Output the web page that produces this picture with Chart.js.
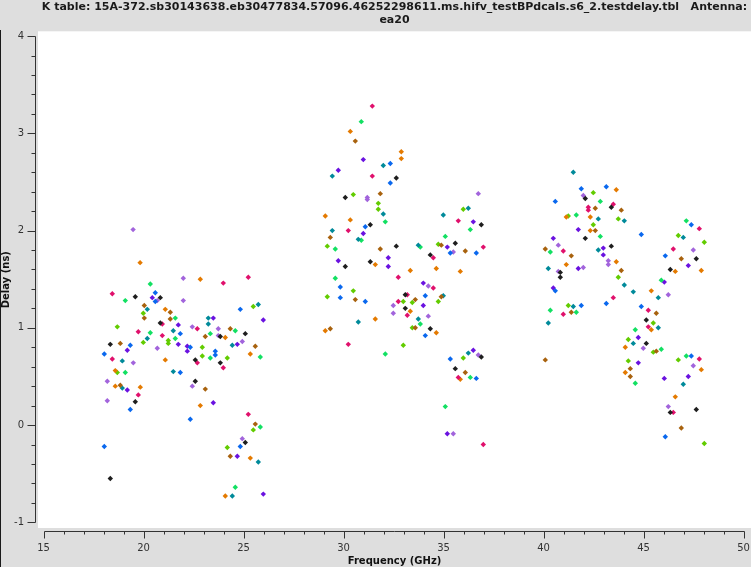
<!DOCTYPE html>
<html>
<head>
<meta charset="utf-8">
<script src="https://cdn.jsdelivr.net/npm/chart.js@4"></script>
<style>
  html, body { margin: 0; padding: 0; background: #dedede; }
  canvas { display: block; }
</style>
</head>
<body>
<canvas id="plot" width="751" height="567"></canvas>
<script>
// plotms-style delay table, ea20, one array pair per colour
const titleLines = ['K table: 15A-372.sb30143638.eb30477834.57096.46252298611.ms.hifv_testBPdcals.s6_2.testdelay.tbl   Antenna:', 'ea20'];
const xTickValues = [15, 20, 25, 30, 35, 40, 45, 50];
const yTickValues = [-1, 0, 1, 2, 3, 4];

const blackFreq = [19.59, 20.84, 20.84, 25.09, 23.84, 18.34, 22.59, 23.84, 22.59, 19.59, 25.09, 18.34,
  32.64, 30.09, 31.34, 30.09, 32.64, 31.34, 34.34, 36.89, 35.59, 33.09, 33.09, 34.34, 35.59, 36.89,
  42.09, 43.39, 42.09, 43.39, 40.84, 40.84, 47.64, 46.34, 45.14, 45.14, 46.34, 47.64];
const blackDelay = [1.32, 1.31, 1.05, 0.94, 0.91, 0.83, 0.67, 0.64, 0.45, 0.24, -0.18, -0.55,
  2.54, 2.34, 2.06, 1.63, 1.84, 1.68, 1.75, 2.06, 1.87, 1.34, 1.20, 0.99, 0.58, 0.70,
  2.33, 2.24, 1.92, 1.84, 1.57, 1.52, 1.71, 1.60, 1.08, 0.84, 0.13, 0.16];

const pinkFreq = [23.99, 25.24, 18.44, 20.94, 22.69, 19.74, 20.94, 18.44, 22.69, 23.99, 19.74, 25.24,
  31.44, 31.44, 30.24, 34.49, 35.74, 36.99, 32.74, 34.49, 33.19, 32.74, 33.19, 30.24, 35.74, 36.99,
  43.49, 42.24, 42.24, 40.99, 43.49, 40.99, 47.79, 46.49, 45.24, 45.24, 47.79, 46.49];
const pinkDelay = [1.46, 1.52, 1.35, 1.04, 0.99, 0.96, 0.92, 0.68, 0.64, 0.59, 0.31, 0.11,
  3.28, 2.56, 2.00, 1.72, 2.10, 1.83, 1.52, 1.41, 1.34, 1.27, 1.13, 0.83, 0.49, -0.20,
  2.27, 2.24, 2.21, 1.79, 1.31, 1.14, 2.02, 1.81, 1.18, 1.01, 0.68, 0.13];

const blueFreq = [20.59, 20.59, 24.84, 21.84, 19.34, 22.34, 23.59, 23.59, 18.04, 21.84, 19.34, 22.34, 24.84, 18.04,
  32.34, 32.34, 31.09, 35.34, 36.64, 29.84, 29.84, 31.09, 34.09, 34.09, 35.34, 36.64,
  41.89, 43.14, 40.59, 40.59, 43.14, 41.89, 44.89, 47.39, 46.09, 44.89, 47.39, 46.09];
const blueDelay = [1.36, 1.27, 1.19, 0.94, 0.82, 0.80, 0.76, 0.72, 0.73, 0.54, 0.16, 0.06, -0.22, -0.22,
  2.69, 2.49, 2.04, 1.77, 1.77, 1.42, 1.31, 1.27, 1.33, 0.92, 0.68, 0.48,
  2.43, 2.45, 2.30, 1.38, 1.25, 1.23, 1.96, 2.06, 1.74, 1.22, 0.71, -0.12];

const orangeFreq = [22.84, 21.09, 24.09, 25.34, 21.09, 18.59, 18.59, 19.84, 22.84, 25.34, 24.09, 19.83,
  30.34, 32.89, 32.89, 29.09, 30.34, 31.59, 33.34, 34.64, 35.84, 33.34, 34.64, 31.59, 29.09, 35.84,
  43.64, 41.14, 42.34, 42.34, 43.64, 41.14, 46.59, 47.89, 45.39, 45.39, 44.09, 44.09, 47.89, 46.59];
const orangeDelay = [1.50, 1.19, 0.90, 0.73, 0.67, 0.56, 0.40, 0.39, 0.20, -0.34, -0.73, 1.67,
  3.02, 2.81, 2.74, 2.15, 2.11, 1.65, 1.59, 1.61, 1.58, 1.17, 0.95, 1.09, 0.97, 0.47,
  2.42, 2.14, 2.14, 2.00, 1.68, 1.65, 1.58, 1.59, 1.38, 0.98, 0.80, 0.54, 0.57, 0.29];

const brownFreq = [20.04, 20.04, 21.34, 21.34, 24.34, 23.09, 18.84, 25.59, 18.84, 23.09, 25.59, 24.34,
  30.59, 31.84, 29.34, 31.84, 34.89, 36.09, 30.59, 33.59, 34.89, 33.59, 29.34, 36.09,
  42.59, 43.89, 42.59, 40.09, 41.39, 43.89, 41.39, 40.09, 46.89, 45.64, 45.64, 44.34, 44.34, 46.89];
const brownDelay = [1.23, 1.10, 1.16, 1.09, 0.99, 0.91, 0.84, 0.81, 0.41, 0.37, 0.01, -0.32,
  2.92, 2.38, 1.93, 1.81, 1.85, 1.79, 1.29, 1.29, 1.32, 1.00, 0.99, 0.54,
  2.23, 2.21, 2.00, 1.81, 1.74, 1.59, 1.16, 0.67, 1.71, 1.15, 0.76, 0.58, 0.50, -0.03];

const tealFreq = [20.19, 25.74, 23.24, 23.24, 21.49, 20.19, 24.44, 18.94, 21.49, 18.94, 25.74, 24.44,
  29.44, 31.99, 31.99, 30.74, 29.44, 33.74, 36.24, 34.99, 34.99, 33.74, 30.74, 36.24,
  41.49, 42.74, 44.04, 42.74, 40.24, 44.04, 44.49, 41.49, 40.24, 46.99, 45.74, 45.74, 44.49, 46.99];
const tealDelay = [1.19, 1.24, 1.10, 1.04, 0.97, 0.89, 0.82, 0.66, 0.55, 0.38, -0.38, -0.73,
  2.56, 2.67, 2.17, 1.91, 2.00, 1.85, 2.23, 2.16, 1.33, 1.09, 1.06, 0.74,
  2.60, 2.12, 2.10, 1.80, 1.61, 1.44, 1.37, 1.22, 1.05, 1.93, 1.31, 1.00, 0.84, 0.42];

const greenFreq = [20.34, 19.09, 21.59, 24.59, 20.34, 23.34, 21.59, 23.34, 25.84, 19.09, 25.84, 24.59,
  30.89, 32.09, 30.89, 29.59, 33.84, 36.34, 35.09, 29.59, 33.84, 32.09, 36.34, 35.09,
  42.84, 41.64, 42.84, 40.34, 40.34, 41.64, 47.14, 45.89, 44.59, 45.89, 44.59, 47.14];
const greenDelay = [1.45, 1.28, 1.10, 0.97, 0.95, 0.94, 0.89, 0.69, 0.70, 0.54, -0.02, -0.64,
  3.12, 2.09, 1.90, 1.81, 1.83, 2.01, 1.94, 1.51, 1.04, 0.73, 0.49, 0.19,
  2.30, 2.16, 1.94, 1.78, 1.18, 1.16, 2.10, 1.49, 0.98, 0.78, 0.43, 0.71];

const limeFreq = [19.99, 25.49, 18.69, 21.24, 21.24, 19.99, 22.94, 22.94, 24.19, 18.69, 25.49, 24.19,
  30.49, 31.74, 31.74, 29.19, 35.99, 34.74, 29.19, 30.49, 32.99, 33.44, 34.74, 33.44, 32.99, 35.99,
  42.49, 41.24, 43.74, 42.49, 43.74, 41.24, 46.74, 48.04, 45.49, 44.24, 45.49, 44.24, 46.74, 48.04];
const limeDelay = [1.15, 1.22, 1.01, 0.87, 0.84, 0.85, 0.80, 0.71, 0.69, 0.54, -0.05, -0.23,
  2.37, 2.28, 2.22, 1.84, 2.22, 1.86, 1.32, 1.38, 1.27, 1.26, 1.27, 1.00, 0.82, 0.69,
  2.39, 2.15, 2.12, 2.06, 1.52, 1.23, 1.95, 1.88, 1.05, 0.88, 0.75, 0.66, 0.67, -0.19];

const purpleFreq = [20.44, 25.99, 23.49, 21.74, 19.19, 21.74, 22.19, 22.19, 24.69, 19.19, 23.49, 24.69, 25.99,
  30.99, 29.74, 30.99, 29.74, 32.24, 32.24, 36.49, 35.19, 33.99, 33.99, 36.49, 35.19,
  41.74, 40.49, 42.99, 42.99, 41.74, 40.49, 47.24, 46.04, 44.74, 44.74, 46.04, 47.24];
const purpleDelay = [1.31, 1.08, 1.10, 1.03, 0.77, 0.83, 0.81, 0.76, 0.83, 0.36, 0.23, -0.32, -0.71,
  2.73, 2.62, 1.97, 1.69, 1.72, 1.63, 2.09, 1.83, 1.46, 1.23, 0.77, -0.09,
  2.01, 1.92, 1.82, 1.75, 1.61, 1.41, 1.64, 1.47, 0.90, 0.64, 0.48, 0.50];

const lavenderFreq = [21.99, 20.69, 21.99, 22.44, 23.74, 23.74, 20.69, 24.94, 19.49, 18.19, 22.44, 18.19, 24.94, 19.48,
  31.19, 31.19, 36.74, 35.49, 34.24, 32.49, 32.49, 34.24, 36.74, 35.49,
  41.99, 40.74, 43.24, 43.24, 41.99, 40.74, 47.49, 46.24, 44.99, 47.49, 46.24];
const lavenderDelay = [1.51, 1.28, 1.28, 1.01, 0.99, 0.92, 0.79, 0.86, 0.64, 0.45, 0.40, 0.25, -0.14, 2.01,
  2.34, 2.32, 2.38, 1.78, 1.43, 1.23, 1.15, 1.12, 0.72, -0.09,
  2.36, 1.85, 1.69, 1.65, 1.62, 1.58, 1.80, 1.34, 0.79, 0.61, 0.19];

const series = [
  { freq: blackFreq, delay: blackDelay, color: '#1e1e1e' },
  { freq: pinkFreq, delay: pinkDelay, color: '#e0106c' },
  { freq: blueFreq, delay: blueDelay, color: '#0a68ee' },
  { freq: orangeFreq, delay: orangeDelay, color: '#e47a00' },
  { freq: brownFreq, delay: brownDelay, color: '#a8620e' },
  { freq: tealFreq, delay: tealDelay, color: '#008a9a' },
  { freq: greenFreq, delay: greenDelay, color: '#12e062' },
  { freq: limeFreq, delay: limeDelay, color: '#62cc00' },
  { freq: purpleFreq, delay: purpleDelay, color: '#6a12e0' },
  { freq: lavenderFreq, delay: lavenderDelay, color: '#a264dc' }
];

const AXIS_COLOR = '#333333';

// gray frame, white plot area, and the plotms-style axis lines + minor ticks
const framePlugin = {
  id: 'frame',
  beforeDraw(chart) {
    const { ctx, chartArea: a, width, height } = chart;
    ctx.save();
    ctx.fillStyle = '#dedede';
    ctx.fillRect(0, 0, width, height);
    ctx.fillStyle = '#ffffff';
    ctx.fillRect(a.left, a.top, a.right - a.left, a.bottom - a.top);
    ctx.fillStyle = '#1a1a1a';
    ctx.fillRect(0, 30, 1, height - 30);
    ctx.restore();
  },
  afterDraw(chart) {
    const { ctx, chartArea: a } = chart;
    const xs = chart.scales.x, ys = chart.scales.y;
    ctx.save();
    ctx.strokeStyle = AXIS_COLOR;
    ctx.lineWidth = 1;
    ctx.beginPath();

    // y axis
    const ax = a.left - 2.5;
    const yTop = Math.round(ys.getPixelForValue(yTickValues[yTickValues.length - 1])) + 0.5;
    const yBot = Math.round(ys.getPixelForValue(yTickValues[0])) + 0.5;
    ctx.moveTo(ax, yTop); ctx.lineTo(ax, yBot);
    for (let v = yTickValues[0]; v <= yTickValues[yTickValues.length - 1] + 1e-6; v += 0.2) {
      const py = Math.round(ys.getPixelForValue(v)) + 0.5;
      const major = Math.abs(v - Math.round(v)) < 1e-6;
      ctx.moveTo(ax, py); ctx.lineTo(ax - (major ? 8 : 4), py);
    }

    // x axis
    const ay = a.bottom + 3.5;
    const xL = Math.round(xs.getPixelForValue(xTickValues[0])) + 0.5;
    const xR = Math.round(xs.getPixelForValue(xTickValues[xTickValues.length - 1])) + 0.5;
    ctx.moveTo(xL, ay); ctx.lineTo(xR, ay);
    for (let v = xTickValues[0]; v <= xTickValues[xTickValues.length - 1]; v += 1) {
      const px = Math.round(xs.getPixelForValue(v)) + 0.5;
      const major = v % 5 === 0;
      ctx.moveTo(px, ay); ctx.lineTo(px, ay + (major ? 7 : 3));
    }
    ctx.stroke();
    ctx.restore();
  }
};

const datasets = series.map(s => ({
  data: s.freq.map((f, i) => ({ x: f, y: s.delay[i] })),
  backgroundColor: s.color,
  borderColor: s.color,
  borderWidth: 0,
  pointStyle: 'rectRot',
  pointRadius: 2.7,
  showLine: false
}));

const tickFont = { family: 'DejaVu Sans', size: 10 };
const titleFont = { family: 'DejaVu Sans', size: 10, weight: 'bold' };

// tick marks themselves are drawn by framePlugin; tickLength only spaces the labels
new Chart(document.getElementById('plot'), {
  type: 'scatter',
  data: { datasets },
  options: {
    responsive: false,
    animation: false,
    layout: { padding: 0, autoPadding: false },
    plugins: {
      legend: { display: false },
      tooltip: { enabled: false },
      title: {
        display: true,
        text: titleLines,
        fullSize: false,
        color: '#1a1a1a',
        font: { family: 'DejaVu Sans', size: 11, weight: 'bold', lineHeight: 1.15 },
        padding: { top: 1, bottom: 5 }
      }
    },
    scales: {
      x: {
        type: 'linear',
        min: 14.725,
        max: 50.375,
        afterBuildTicks: s => { s.ticks = xTickValues.map(v => ({ value: v })); },
        afterFit: s => { s.height = 39; s.paddingLeft = 0; s.paddingRight = 0; },
        grid: { display: false, drawTicks: true, tickLength: 14 },
        border: { display: false },
        ticks: { color: AXIS_COLOR, font: tickFont, padding: 0, maxRotation: 0, autoSkip: false },
        title: { display: true, text: 'Frequency (GHz)', color: '#111111', font: titleFont, padding: 0 }
      },
      y: {
        type: 'linear',
        min: -1.0586,
        max: 4.0493,
        afterBuildTicks: s => { s.ticks = yTickValues.map(v => ({ value: v })); },
        afterFit: s => { s.width = 38; s.paddingTop = 0; s.paddingBottom = 0; },
        grid: { display: false, drawTicks: true, tickLength: 14 },
        border: { display: false },
        ticks: { color: AXIS_COLOR, font: tickFont, padding: 0, autoSkip: false },
        title: { display: true, text: 'Delay (ns)', color: '#111111', font: titleFont, padding: 0 }
      }
    }
  },
  plugins: [framePlugin]
});
</script>
</body>
</html>
